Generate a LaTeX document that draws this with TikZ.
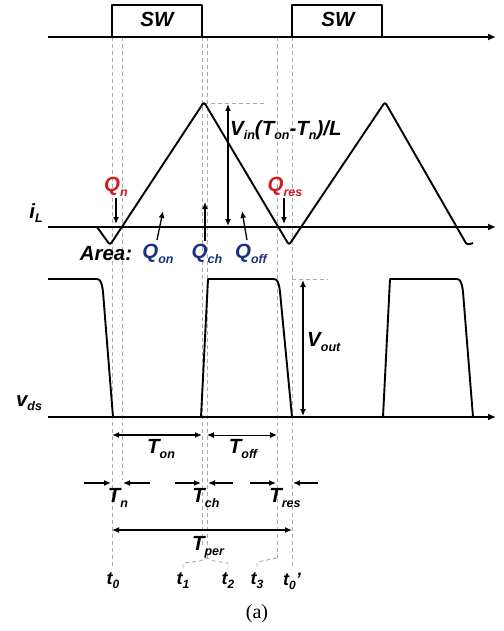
\documentclass[tikz,border=0pt]{standalone}
\usepackage{fontspec}
\setmainfont{Liberation Sans}
\newfontfamily\serifa{Liberation Serif}
\usetikzlibrary{arrows.meta}
\definecolor{qred}{RGB}{205,30,35}
\definecolor{qblue}{RGB}{28,48,130}
\definecolor{dgray}{RGB}{170,170,170}
\newcommand\sbs[1]{\raisebox{-0.42ex}{\fontsize{12.5}{13}\selectfont #1}}
\newcommand\tsb[1]{\raisebox{-0.4ex}{\fontsize{12}{12}\selectfont #1}}
\tikzset{
  lbl/.style={inner sep=0pt, font=\fontsize{20.5}{21}\selectfont\bfseries\itshape},
  tlbl/.style={inner sep=0pt, font=\fontsize{18}{18}\selectfont\bfseries\itshape},
  wave/.style={line width=1.9pt, line join=round},
  axisline/.style={line width=1.9pt, -{Latex[length=8pt,width=7pt]}},
  guide/.style={dgray, line width=0.9pt, dash pattern=on 4pt off 3pt},
  dim/.style={line width=1.3pt, {Latex[length=7pt,width=6pt]}-{Latex[length=7pt,width=6pt]}},
  pt/.style={line width=1.3pt, -{Latex[length=7pt,width=6pt]}},
}
\begin{document}
\begin{tikzpicture}[x=1pt,y=-1pt]
\useasboundingbox (0,0) rectangle (503,631);
% guide lines
\coordinate (g0t) at (112,37);  \coordinate (g0b) at (112,566);
\coordinate (gnt) at (122,37);  \coordinate (gnb) at (122,480);
\coordinate (g1t) at (202,37);  \coordinate (g1b) at (202,545);
\coordinate (g2t) at (207,37);  \coordinate (g2b) at (207,558);
\coordinate (g3t) at (277,37);  \coordinate (g3b) at (277,558);
\coordinate (g4t) at (292,37);  \coordinate (g4b) at (292,566);
\draw[guide] (g0t) -- (g0b);
\draw[guide] (gnt) -- (gnb);
\draw[guide] (g1t) -- (g1b);
\draw[guide] (g2t) -- (g2b);
\draw[guide] (g3t) -- (g3b);
\draw[guide] (g4t) -- (g4b);
\draw[guide] (183,568) -- (183,563) -- (200,561) -- (g2b) -- (214,561) -- (228,563) -- (228,568);
\draw[guide] (g3b) -- (257,562) -- (257,568);
\draw[guide] (204,103) -- (267,103);
\draw[guide] (292,279) -- (328,279);
% top axis and SW boxes
\coordinate (ta0) at (48,37); \coordinate (ta1) at (496,37);
\draw[axisline] (ta0) -- (ta1);
\draw[wave] (112,37) -- (112,5) -- (202,5) -- (202,37);
\draw[wave] (292,37) -- (292,5) -- (382,5) -- (382,37);
\node[lbl] (sw1) at (157,19.5) {SW};
\node[lbl] (sw2) at (338,19.5) {SW};
% iL
\coordinate (ia0) at (48,227); \coordinate (ia1) at (496,227);
\draw[axisline] (ia0) -- (ia1);
\node[lbl] (il) at (36,213) {i\sbs{L}};
\draw[wave, rounded corners=2.5pt] (97,227) -- (110,245) -- (204,102) -- (289,245) -- (385,102) -- (467,245) -- (473,243);
% peak dimension
\coordinate (pk) at (228,104); \coordinate (pb) at (228,226);
\draw[dim] (pk) -- (pb);
\node[lbl, anchor=west] (vin) at (230,130) {V\sbs{in}(T\sbs{on}-T\sbs{n})/L};
% Q labels
\node[lbl, text=qred] (qn) at (116,187) {Q\sbs{n}};
\node[lbl, text=qred] (qres) at (285,187) {Q\sbs{res}};
\coordinate (qna) at (116,224); \coordinate (qra) at (284,224);
\draw[pt] (116,198) -- (qna);
\draw[pt] (284,198) -- (qra);
\node[lbl] (area) at (106,254) {Area:};
\node[lbl, text=qblue] (qon) at (158,254) {Q\sbs{on}};
\node[lbl, text=qblue] (qch) at (207,254) {Q\sbs{ch}};
\node[lbl, text=qblue] (qoff) at (251,254) {Q\sbs{off}};
\coordinate (qont) at (163,211); \coordinate (qcht) at (205,202); \coordinate (qofft) at (242,211);
\draw[pt] (157,240) -- (qont);
\draw[pt] (205,241) -- (qcht);
\draw[pt] (247,240) -- (qofft);
% vds
\coordinate (va0) at (48,417); \coordinate (va1) at (496,417);
\draw[axisline] (va0) -- (va1);
\node[lbl] (vds) at (29,403) {v\sbs{ds}};
\draw[wave] (48,279) -- (97,279) .. controls (100.5,279) and (102,283) .. (103,292) -- (113,417)
  (201,417) -- (208,279) -- (274,279) .. controls (277.5,279) and (279,283) .. (280,292) -- (292,417)
  (383,417) -- (390,279) -- (457,279) .. controls (460.5,279) and (462,283) .. (463,292) -- (473,417);
\coordinate (vo1) at (303,280); \coordinate (vo2) at (303,416);
\draw[dim] (vo1) -- (vo2);
\node[lbl, anchor=west] (vout) at (307,342) {V\sbs{out}};
% time dimensions
\coordinate (ton1) at (112,435); \coordinate (ton2) at (202,435);
\coordinate (tof1) at (207,435); \coordinate (tof2) at (277,435);
\draw[dim] (ton1) -- (ton2);
\draw[dim, line width=1pt] (tof1) -- (tof2);
\node[lbl] (ton) at (161,449) {T\sbs{on}};
\node[lbl] (toff) at (243,449) {T\sbs{off}};
\draw[pt] (84,483) -- (111,483);
\draw[pt] (150,483) -- (123,483);
\draw[pt] (175,483) -- (201,483);
\draw[pt] (233,483) -- (208,483);
\draw[pt] (250,483) -- (276,483);
\draw[pt] (318,483) -- (293,483);
\node[lbl] (tn) at (118,498) {T\sbs{n}};
\node[lbl] (tch) at (206,498) {T\sbs{ch}};
\node[lbl] (tres) at (285,498) {T\sbs{res}};
\coordinate (tp1) at (112,530); \coordinate (tp2) at (292,530);
\draw[dim] (tp1) -- (tp2);
\node[lbl] (tper) at (208,547) {T\sbs{per}};
% t labels
\node[tlbl] (t0) at (113,581) {t\tsb{0}};
\node[tlbl] (t1) at (183,581) {t\tsb{1}};
\node[tlbl] (t2) at (228,581) {t\tsb{2}};
\node[tlbl] (t3) at (257,581) {t\tsb{3}};
\node[tlbl] (t0p) at (292,581) {t\tsb{0}'};
\node[inner sep=0pt, font=\serifa\fontsize{20}{20}\selectfont] (cap) at (257,614) {(a)};
\end{tikzpicture}
\end{document}
